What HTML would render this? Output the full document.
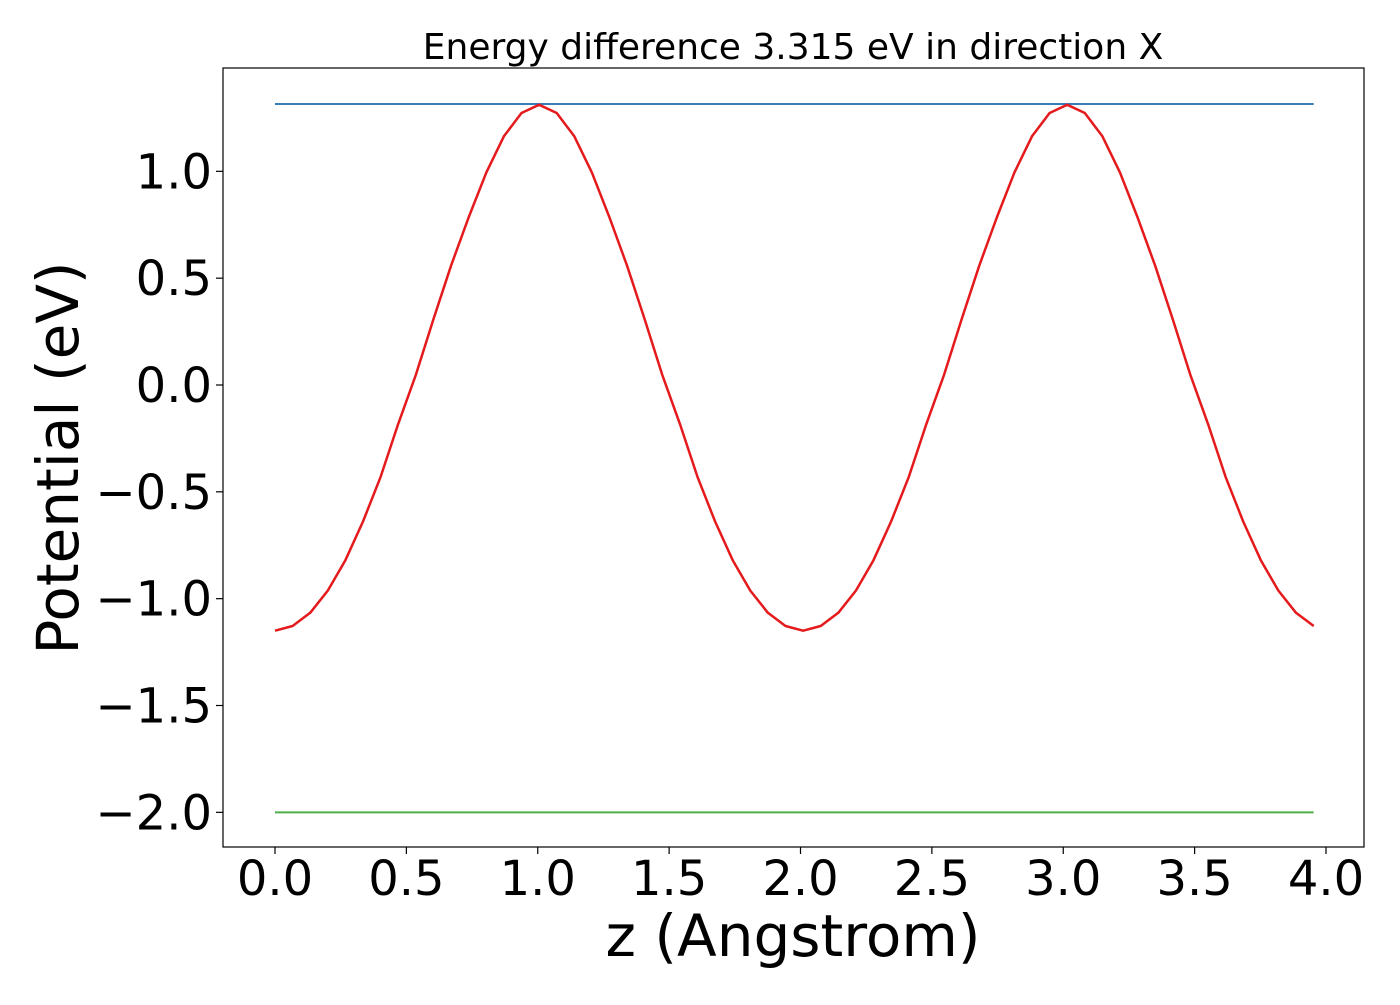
<!DOCTYPE html>
<html><head><meta charset="utf-8"><style>
body{margin:0;background:#fff;}
svg text{font-family:"DejaVu Sans","Liberation Sans",sans-serif;fill:#000;}
</style></head><body>
<svg width="1400" height="1000">
<rect x="223" y="68" width="1141" height="779" fill="#fff" stroke="#000" stroke-width="1.2"/>
<text x="793" y="59" font-size="36" text-anchor="middle">Energy difference 3.315 eV in direction X</text>
<g id="xticks"></g><g id="yticks"></g><g id="series"></g>
<text x="793" y="956" font-size="58" text-anchor="middle">z (Angstrom)</text>
<text transform="translate(78,458) rotate(-90)" font-size="58" text-anchor="middle">Potential (eV)</text>
</svg>
<script>
const xTickValues=[0,0.5,1,1.5,2,2.5,3,3.5,4];
const xTickLabels=["0.0","0.5","1.0","1.5","2.0","2.5","3.0","3.5","4.0"];
const yTickValues=[1,0.5,0,-0.5,-1,-1.5,-2];
const yTickLabels=["1.0","0.5","0.0","\u22120.5","\u22121.0","\u22121.5","\u22122.0"];
const zStep=0.067;
const potential=[-1.150,-1.128,-1.066,-0.962,-0.820,-0.639,-0.430,-0.182,0.047,0.307,0.558,0.784,0.994,1.164,1.273,1.312,1.273,1.164,0.994,0.784,0.558,0.307,0.047,-0.182,-0.430,-0.639,-0.820,-0.962,-1.066,-1.128,-1.150,-1.128,-1.066,-0.962,-0.820,-0.639,-0.430,-0.182,0.047,0.307,0.558,0.784,0.994,1.164,1.273,1.312,1.273,1.164,0.994,0.784,0.558,0.307,0.047,-0.182,-0.430,-0.639,-0.820,-0.962,-1.066,-1.128];
const upperLevel=1.315;
const lowerLevel=-2.0;
const NS="http://www.w3.org/2000/svg";
function sx(v){return 275+v*262.75;}
function sy(v){return 385-v*213.67;}
function mk(tag,attrs,parent){const e=document.createElementNS(NS,tag);for(const k in attrs)e.setAttribute(k,attrs[k]);parent.appendChild(e);return e;}
const xt=document.getElementById('xticks'),yt=document.getElementById('yticks'),sg=document.getElementById('series');
xTickValues.forEach((v,i)=>{
 const l=mk('line',{x1:sx(v),x2:sx(v),y1:847,y2:854,stroke:'#000','stroke-width':1.2},xt);
 
 
 const t=mk('text',{x:sx(v),y:895,'font-size':48,'text-anchor':'middle'},xt);
 t.textContent=xTickLabels[i];
 
 
});
yTickValues.forEach((v,i)=>{
 const l=mk('line',{x1:216,x2:223,y1:sy(v),y2:sy(v),stroke:'#000','stroke-width':1.2},yt);
 
 
 const t=mk('text',{x:212,y:sy(v)+17,'font-size':48,'text-anchor':'end'},yt);
 t.textContent=yTickLabels[i];
 
 
});
const zMax=(potential.length-1)*zStep;
const ub=mk('line',{x1:sx(0),x2:sx(zMax),y1:sy(upperLevel),y2:sy(upperLevel),stroke:'#377eb8','stroke-width':2},sg);


const lb=mk('line',{x1:sx(0),x2:sx(zMax),y1:sy(lowerLevel),y2:sy(lowerLevel),stroke:'#4daf4a','stroke-width':2},sg);


const pts=potential.map((v,i)=>sx(i*zStep).toFixed(1)+','+sy(v).toFixed(1)).join(' ');
const pl=mk('polyline',{points:pts,fill:'none',stroke:'#e41a1c','stroke-width':2.5,'stroke-linejoin':'round'},sg);


</script>
</body></html>
